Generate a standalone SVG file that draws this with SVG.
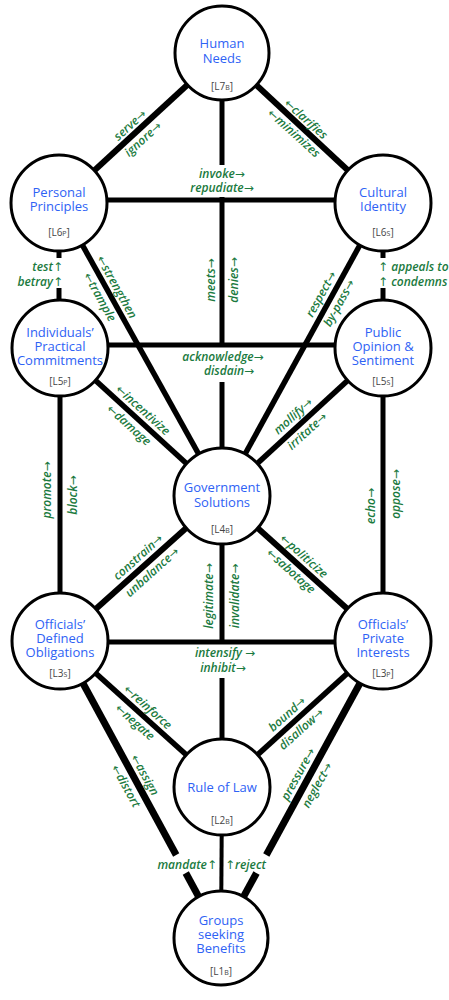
<svg xmlns="http://www.w3.org/2000/svg" width="449" height="1000" viewBox="0 0 449 1000">
<style>
.n{fill:#fff;stroke:#000;stroke-width:3}
.t{font-family:"Open Sans","Liberation Sans",sans-serif;font-size:13px;fill:#2e62f5;text-anchor:middle}
.c{font-family:"Open Sans","Liberation Sans",sans-serif;font-size:10px;fill:#444;text-anchor:middle}
.sc{font-size:7px}
.l{font-family:"Open Sans","Liberation Sans",sans-serif;font-size:12px;font-style:italic;font-weight:600;fill:#1b7a40;text-anchor:middle}
.a{font-family:"DejaVu Sans",sans-serif;font-style:normal;font-weight:normal}
.e{text-anchor:end}
.s{text-anchor:start}
line{stroke:#000;stroke-linecap:butt}
</style>
<rect width="449" height="1000" fill="#fff"/>
<g id="connectors">
<line x1="222" y1="53" x2="59" y2="203" stroke-width="6"/>
<line x1="222" y1="53" x2="383" y2="203" stroke-width="6"/>
<line x1="222" y1="100" x2="222" y2="165" stroke-width="5"/>
<line x1="222" y1="197" x2="222" y2="347" stroke-width="5"/>
<line x1="222" y1="382" x2="222" y2="496" stroke-width="5"/>
<line x1="59" y1="200" x2="383" y2="200" stroke-width="5"/>
<line x1="59" y1="248" x2="59" y2="258" stroke-width="5"/>
<line x1="59" y1="288" x2="59" y2="302" stroke-width="5"/>
<line x1="383" y1="248" x2="383" y2="258" stroke-width="5"/>
<line x1="383" y1="288" x2="383" y2="302" stroke-width="5"/>
<line x1="59" y1="203" x2="222" y2="496" stroke-width="5.5"/>
<line x1="383" y1="203" x2="222" y2="496" stroke-width="5.5"/>
<line x1="60" y1="345" x2="383" y2="345" stroke-width="5"/>
<line x1="60" y1="348" x2="222" y2="496" stroke-width="5.5"/>
<line x1="383" y1="348" x2="222" y2="496" stroke-width="5.5"/>
<line x1="60" y1="348" x2="60" y2="641" stroke-width="5"/>
<line x1="383" y1="348" x2="383" y2="641" stroke-width="5"/>
<line x1="222" y1="496" x2="60" y2="641" stroke-width="6"/>
<line x1="222" y1="496" x2="383" y2="641" stroke-width="6"/>
<line x1="222" y1="496" x2="222" y2="644" stroke-width="5"/>
<line x1="222" y1="678" x2="222" y2="787" stroke-width="5"/>
<line x1="60" y1="642" x2="383" y2="642" stroke-width="5"/>
<line x1="60" y1="641" x2="222" y2="787" stroke-width="5.5"/>
<line x1="383" y1="641" x2="222" y2="787" stroke-width="5.5"/>
<line x1="60" y1="641" x2="176.2" y2="855" stroke-width="7"/>
<line x1="185.8" y1="873" x2="221" y2="938" stroke-width="7"/>
<line x1="383" y1="641" x2="266.3" y2="855" stroke-width="7"/>
<line x1="256.5" y1="873" x2="221" y2="938" stroke-width="7"/>
<line x1="222" y1="787" x2="221" y2="938" stroke-width="4"/>
</g>
<g id="labels">
<text class="l" transform="translate(130,125) rotate(-42)" dy=".35em">serve<tspan class="a">→</tspan></text>
<text class="l" transform="translate(143,139) rotate(-42)" dy=".35em">ignore<tspan class="a">→</tspan></text>
<text class="l" transform="translate(306,119) rotate(42)" dy=".35em"><tspan class="a">←</tspan>clarifies</text>
<text class="l" transform="translate(294,133) rotate(42)" dy=".35em"><tspan class="a">←</tspan>minimizes</text>
<text class="l" x="222" y="178">invoke<tspan class="a">→</tspan></text>
<text class="l" x="222" y="192">repudiate<tspan class="a">→</tspan></text>
<text class="l e" x="63" y="271">test<tspan class="a">↑</tspan></text>
<text class="l e" x="63" y="286">betray<tspan class="a">↑</tspan></text>
<text class="l s" x="378" y="271"><tspan class="a">↑</tspan> appeals to</text>
<text class="l s" x="378" y="286"><tspan class="a">↑</tspan> condemns</text>
<text class="l" transform="translate(211,280) rotate(-90)" dy=".35em">meets<tspan class="a">→</tspan></text>
<text class="l" transform="translate(234,280) rotate(-90)" dy=".35em">denies<tspan class="a">→</tspan></text>
<text class="l" transform="translate(117,287) rotate(61)" dy=".35em"><tspan class="a">←</tspan>strengthen</text>
<text class="l" transform="translate(100,297) rotate(61)" dy=".35em"><tspan class="a">←</tspan>trample</text>
<text class="l" transform="translate(321,294) rotate(-61)" dy=".35em">respect<tspan class="a">→</tspan></text>
<text class="l" transform="translate(339,303) rotate(-61)" dy=".35em">by-pass<tspan class="a">→</tspan></text>
<text class="l" x="223" y="361">acknowledge<tspan class="a">→</tspan></text>
<text class="l" x="229" y="375">disdain<tspan class="a">→</tspan></text>
<text class="l" transform="translate(143,410) rotate(42)" dy=".35em"><tspan class="a">←</tspan>incentivize</text>
<text class="l" transform="translate(129,425) rotate(42)" dy=".35em"><tspan class="a">←</tspan>damage</text>
<text class="l" transform="translate(293,416) rotate(-42)" dy=".35em">mollify<tspan class="a">→</tspan></text>
<text class="l" transform="translate(307,431) rotate(-42)" dy=".35em">irritate<tspan class="a">→</tspan></text>
<text class="l" transform="translate(47,490) rotate(-90)" dy=".35em">promote<tspan class="a">→</tspan></text>
<text class="l" transform="translate(73,495) rotate(-90)" dy=".35em">block<tspan class="a">→</tspan></text>
<text class="l" transform="translate(371,506) rotate(-90)" dy=".35em">echo<tspan class="a">→</tspan></text>
<text class="l" transform="translate(396,494) rotate(-90)" dy=".35em">oppose<tspan class="a">→</tspan></text>
<text class="l" transform="translate(138,557) rotate(-42)" dy=".35em">constrain<tspan class="a">→</tspan></text>
<text class="l" transform="translate(152,572) rotate(-42)" dy=".35em">unbalance<tspan class="a">→</tspan></text>
<text class="l" transform="translate(304,556) rotate(42)" dy=".35em"><tspan class="a">←</tspan>politicize</text>
<text class="l" transform="translate(291,571) rotate(42)" dy=".35em"><tspan class="a">←</tspan>sabotage</text>
<text class="l" transform="translate(209,596) rotate(-90)" dy=".35em">legitimate<tspan class="a">→</tspan></text>
<text class="l" transform="translate(235,596) rotate(-90)" dy=".35em">invalidate<tspan class="a">→</tspan></text>
<text class="l" x="225" y="657">intensify <tspan class="a">→</tspan></text>
<text class="l" x="223" y="672">inhibit<tspan class="a">→</tspan></text>
<text class="l" transform="translate(148,707) rotate(42)" dy=".35em"><tspan class="a">←</tspan>reinforce</text>
<text class="l" transform="translate(135,722) rotate(42)" dy=".35em"><tspan class="a">←</tspan>negate</text>
<text class="l" transform="translate(287,714) rotate(-42)" dy=".35em">bound<tspan class="a">→</tspan></text>
<text class="l" transform="translate(301,729) rotate(-42)" dy=".35em">disallow<tspan class="a">→</tspan></text>
<text class="l" transform="translate(145,775) rotate(61)" dy=".35em"><tspan class="a">←</tspan>assign</text>
<text class="l" transform="translate(126,786) rotate(61)" dy=".35em"><tspan class="a">←</tspan>distort</text>
<text class="l" transform="translate(298,774) rotate(-61)" dy=".35em">pressure<tspan class="a">→</tspan></text>
<text class="l" transform="translate(317,785) rotate(-61)" dy=".35em">neglect<tspan class="a">→</tspan></text>
<text class="l e" x="217" y="869">mandate<tspan class="a">↑</tspan></text>
<text class="l s" x="225" y="869"><tspan class="a">↑</tspan>reject</text>
</g>
<g id="L7B"><circle class="n" cx="222" cy="53" r="47"/><text class="t" x="222" y="48">Human</text><text class="t" x="222" y="63">Needs</text><text class="c" x="222" y="90">[L7<tspan class="sc">B</tspan>]</text></g>
<g id="L6P"><circle class="n" cx="59" cy="203" r="48"/><text class="t" x="59" y="197">Personal</text><text class="t" x="59" y="211">Principles</text><text class="c" x="59" y="236">[L6<tspan class="sc">P</tspan>]</text></g>
<g id="L6S"><circle class="n" cx="383" cy="203" r="48"/><text class="t" x="383" y="197">Cultural</text><text class="t" x="383" y="211">Identity</text><text class="c" x="383" y="236">[L6<tspan class="sc">S</tspan>]</text></g>
<g id="L5P"><circle class="n" cx="60" cy="348" r="48"/><text class="t" x="60" y="337">Individuals’</text><text class="t" x="60" y="351">Practical</text><text class="t" x="60" y="365">Commitments</text><text class="c" x="60" y="385">[L5<tspan class="sc">P</tspan>]</text></g>
<g id="L5S"><circle class="n" cx="383" cy="348" r="48"/><text class="t" x="383" y="337">Public</text><text class="t" x="383" y="351">Opinion &amp;</text><text class="t" x="383" y="365">Sentiment</text><text class="c" x="383" y="385">[L5<tspan class="sc">S</tspan>]</text></g>
<g id="L4B"><circle class="n" cx="222" cy="496" r="48"/><text class="t" x="222" y="492">Government</text><text class="t" x="222" y="507">Solutions</text><text class="c" x="222" y="533">[L4<tspan class="sc">B</tspan>]</text></g>
<g id="L3S"><circle class="n" cx="60" cy="641" r="48"/><text class="t" x="60" y="629">Officials’</text><text class="t" x="60" y="643">Defined</text><text class="t" x="60" y="657">Obligations</text><text class="c" x="60" y="677">[L3<tspan class="sc">S</tspan>]</text></g>
<g id="L3P"><circle class="n" cx="383" cy="641" r="48"/><text class="t" x="383" y="629">Officials’</text><text class="t" x="383" y="643">Private</text><text class="t" x="383" y="657">Interests</text><text class="c" x="383" y="677">[L3<tspan class="sc">P</tspan>]</text></g>
<g id="L2B"><circle class="n" cx="222" cy="787" r="48"/><text class="t" x="222" y="792">Rule of Law</text><text class="c" x="222" y="824">[L2<tspan class="sc">B</tspan>]</text></g>
<g id="L1B"><circle class="n" cx="221" cy="938" r="47"/><text class="t" x="221" y="925">Groups</text><text class="t" x="221" y="939">seeking</text><text class="t" x="221" y="953">Benefits</text><text class="c" x="221" y="975">[L1<tspan class="sc">B</tspan>]</text></g>
</svg>
